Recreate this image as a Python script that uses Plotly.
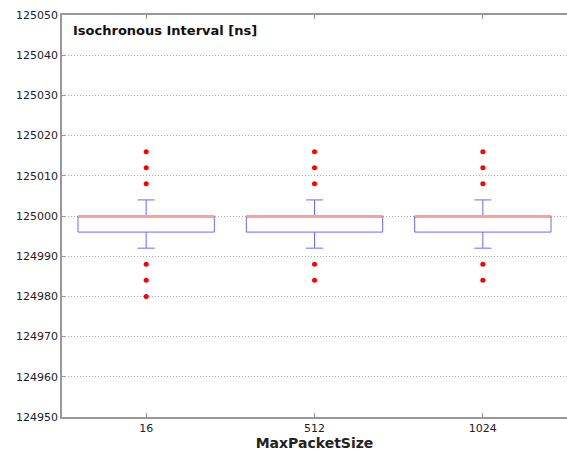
import plotly.graph_objects as go

categories = ["16", "512", "1024"]
q1 = [124996, 124996, 124996]
median = [125000, 125000, 125000]
q3 = [125000, 125000, 125000]
lower_whisker = [124992, 124992, 124992]
upper_whisker = [125004, 125004, 125004]
outliers = [
    [125016, 125012, 125008, 124988, 124984, 124980],
    [125016, 125012, 125008, 124988, 124984],
    [125016, 125012, 125008, 124988, 124984],
]
title_text = "Isochronous Interval [ns]"
x_title = "MaxPacketSize"

fig = go.Figure()

# box + whiskers (blue)
fig.add_trace(go.Box(
    x=categories, q1=q1, median=median, q3=q3,
    lowerfence=lower_whisker, upperfence=upper_whisker,
    line=dict(color="#6a6aff", width=1), fillcolor="rgba(0,0,0,0)",
    width=0.81, whiskerwidth=0.125, boxpoints=False, showlegend=False,
    hoverinfo="skip",
))
# median line (red)
fig.add_trace(go.Box(
    x=categories, q1=median, median=median, q3=median,
    lowerfence=median, upperfence=median,
    line=dict(color="#ff9c9c", width=2), fillcolor="rgba(0,0,0,0)",
    width=0.81, whiskerwidth=0, boxpoints=False, showlegend=False,
    hoverinfo="skip",
))
# outliers
ox, oy = [], []
for c, vals in zip(categories, outliers):
    ox += [c] * len(vals)
    oy += vals
fig.add_trace(go.Scatter(
    x=ox, y=oy, mode="markers",
    marker=dict(color="red", size=5, line=dict(width=0)),
    showlegend=False, hoverinfo="skip",
))

fig.update_layout(
    width=567, height=453,
    margin=dict(l=62, r=0, t=15, b=36),
    paper_bgcolor="white", plot_bgcolor="white",
    font=dict(family="DejaVu Sans", size=11, color="#222222"),
    boxmode="overlay",
    annotations=[dict(
        text="<b>" + title_text + "</b>", xref="paper", yref="paper",
        x=0.018, y=0.985, xanchor="left", yanchor="top", showarrow=False,
        font=dict(family="DejaVu Sans", size=13, color="#111111"),
    )],
)
fig.update_xaxes(
    type="category", categoryorder="array", categoryarray=categories,
    range=[-0.5, 2.5], showgrid=False, zeroline=False, automargin=False,
    showline=True, linecolor="#999999", linewidth=1.5, mirror="ticks",
    ticks="inside", ticklen=4, tickcolor="#999999",
    tickfont=dict(size=11, color="#222222"),
    title=dict(text="<b>" + x_title + "</b>", standoff=0,
               font=dict(size=14, color="#222222")),
)
fig.update_yaxes(
    range=[124950, 125050], dtick=10, tickformat="d", automargin=False,
    showgrid=True, gridcolor="#aaaaaa", griddash="1px,2px", gridwidth=1,
    zeroline=False, showline=True, linecolor="#999999", linewidth=1.5,
    ticks="inside", ticklen=3, tickcolor="#999999",
    tickfont=dict(size=11, color="#222222"),
)

fig.write_html("out.html", config={"displayModeBar": False},
               post_script="document.body.style.margin='0';")
